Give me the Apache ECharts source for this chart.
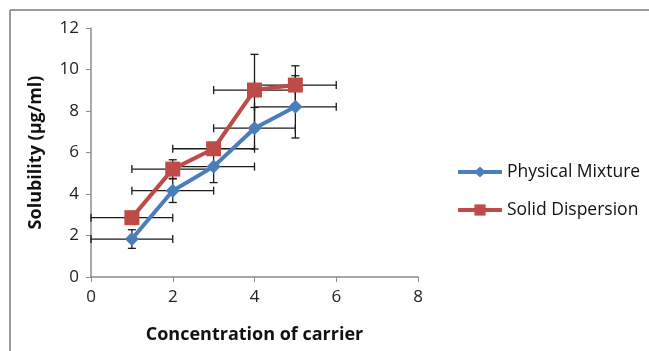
<!DOCTYPE html>
<html>
<head>
<meta charset="utf-8">
<script src="https://cdn.jsdelivr.net/npm/echarts@6/dist/echarts.min.js"></script>
<style>
  html, body { margin: 0; padding: 0; background: #fff; }
  #chart { width: 649px; height: 351px; }
</style>
</head>
<body>
<div id="chart"></div>
<script>
// --- data ---
const carrier = [1, 2, 3, 4, 5];
const physicalMixture = [1.83, 4.16, 5.32, 7.17, 8.2];
const solidDispersion = [2.86, 5.2, 6.18, 9.01, 9.25];
const xError = [1, 1, 1, 1, 1];
const pmYError = [0.45, 0.57, 0.77, 1.0, 1.5];
const sdYError = [0.25, 0.45, 0.3, 1.72, 0.93];

const FONT = '"Open Sans", Lato, sans-serif';
const AXIS = '#8c8c8c';
const BLUE = '#4a7ebb';
const RED = '#be4b48';

function errRows(ys, yErr) {
  return carrier.map((x, i) => [x, ys[i], xError[i], yErr[i]]);
}

function renderErr(params, api) {
  const x = api.value(0), y = api.value(1), ex = api.value(2), ey = api.value(3);
  const l = api.coord([x - ex, y]), r = api.coord([x + ex, y]);
  const t = api.coord([x, y + ey]), b = api.coord([x, y - ey]);
  const c = 4;
  const st = { stroke: '#1a1a1a', lineWidth: 1.3 };
  const line = (x1, y1, x2, y2) => ({ type: 'line', shape: { x1, y1, x2, y2 }, style: st });
  return {
    type: 'group',
    children: [
      line(l[0], l[1], r[0], r[1]),
      line(l[0], l[1] - c, l[0], l[1] + c),
      line(r[0], r[1] - c, r[0], r[1] + c),
      line(t[0], t[1], b[0], b[1]),
      line(t[0] - c, t[1], t[0] + c, t[1]),
      line(b[0] - c, b[1], b[0] + c, b[1])
    ]
  };
}

const chart = echarts.init(document.getElementById('chart'), null, { renderer: 'canvas' });
chart.setOption({
  backgroundColor: '#fff',
  animation: false,
  textStyle: { fontFamily: FONT },
  graphic: [
    { type: 'line', shape: { x1: 10, y1: 10, x2: 649, y2: 10 }, style: { stroke: '#7a7a7a', lineWidth: 1.5 } },
    { type: 'line', shape: { x1: 10, y1: 10, x2: 10, y2: 351 }, style: { stroke: '#7a7a7a', lineWidth: 1.5 } }
  ],
  grid: { left: 91, right: 231, top: 28, bottom: 74 },
  xAxis: {
    type: 'value', min: 0, max: 8, interval: 2,
    name: 'Concentration of carrier', nameLocation: 'middle', nameGap: 49,
    nameTextStyle: { color: '#111', fontWeight: 'bold', fontSize: 18, fontFamily: FONT },
    axisLine: { lineStyle: { color: AXIS, width: 1.5 } },
    axisTick: { show: true, inside: false, length: 5, lineStyle: { color: AXIS } },
    axisLabel: { color: '#222', fontSize: 17, margin: 12, fontFamily: FONT },
    splitLine: { show: false }
  },
  yAxis: {
    type: 'value', min: 0, max: 12, interval: 2,
    name: 'Solubility (µg/ml)', nameLocation: 'middle', nameGap: 46, nameRotate: 90,
    nameTextStyle: { color: '#111', fontWeight: 'bold', fontSize: 18, fontFamily: FONT },
    axisLine: { show: true, lineStyle: { color: AXIS, width: 1.5 } },
    axisTick: { show: true, inside: false, length: 5, lineStyle: { color: AXIS } },
    axisLabel: { color: '#222', fontSize: 17, margin: 12, fontFamily: FONT },
    splitLine: { show: false }
  },
  legend: {
    orient: 'vertical', left: 451, top: 158, itemGap: 20,
    itemWidth: 44, itemHeight: 14,
    lineStyle: { width: 4 },
    textStyle: { color: '#111', fontSize: 17.5, fontFamily: FONT },
    data: ['Physical Mixture', 'Solid Dispersion']
  },
  series: [
    {
      type: 'custom', name: 'pmErr', z: 1, silent: true,
      renderItem: renderErr, encode: { x: 0, y: 1 },
      data: errRows(physicalMixture, pmYError)
    },
    {
      type: 'custom', name: 'sdErr', z: 1, silent: true,
      renderItem: renderErr, encode: { x: 0, y: 1 },
      data: errRows(solidDispersion, sdYError)
    },
    {
      name: 'Physical Mixture', type: 'line', z: 3,
      symbol: 'diamond', symbolSize: 14,
      lineStyle: { color: BLUE, width: 4 }, itemStyle: { color: BLUE },
      data: carrier.map((x, i) => [x, physicalMixture[i]])
    },
    {
      name: 'Solid Dispersion', type: 'line', z: 3,
      symbol: 'rect', symbolSize: 15,
      lineStyle: { color: RED, width: 4 }, itemStyle: { color: RED },
      data: carrier.map((x, i) => [x, solidDispersion[i]])
    }
  ]
});
</script>
</body>
</html>
